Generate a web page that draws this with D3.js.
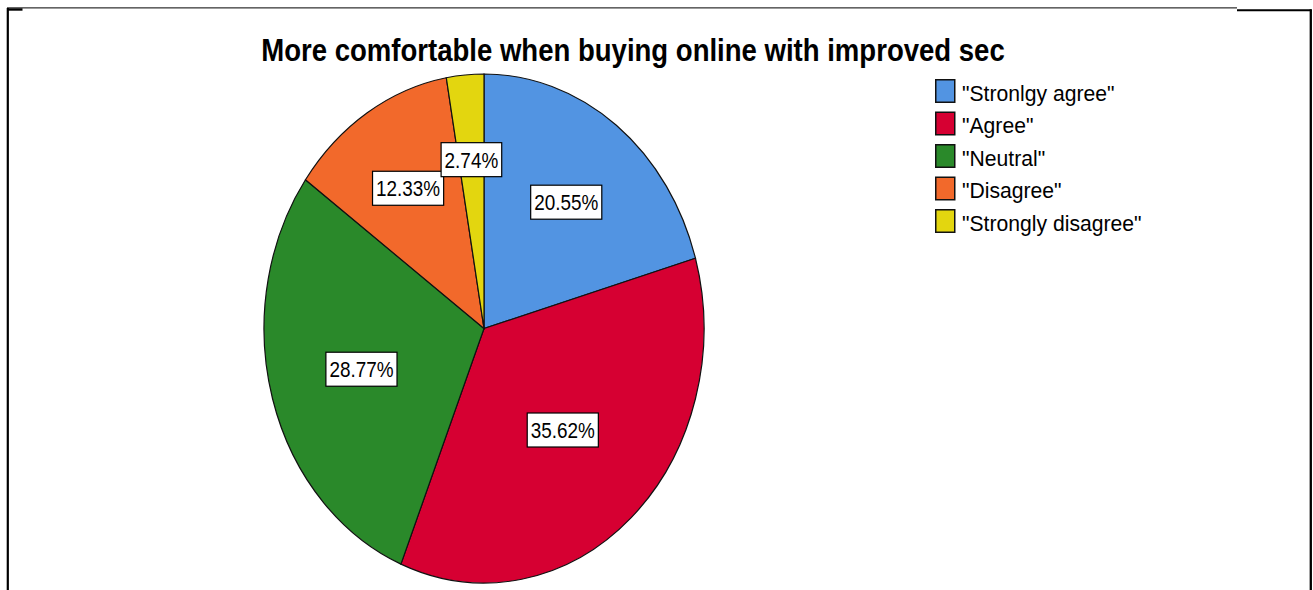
<!DOCTYPE html>
<html>
<head>
<meta charset="utf-8">
<script src="https://cdn.jsdelivr.net/npm/d3@7"></script>
<style>
  html, body { margin: 0; padding: 0; background: #fff; }
  svg { display: block; }
  text { font-family: "Liberation Sans", Arial, sans-serif; }
</style>
</head>
<body>
<svg id="chart" width="1313" height="590"></svg>
<script>
// Survey responses, percent of respondents
const categories = ['"Stronlgy agree"', '"Agree"', '"Neutral"', '"Disagree"', '"Strongly disagree"'];
const percents = [20.55, 35.62, 28.77, 12.33, 2.74];
const colors = ["#5294e2", "#d60032", "#2a892a", "#f2692b", "#e3d60f"];
const title = "More comfortable when buying online with improved sec";

const svg = d3.select("#chart");

// Narrow-looking text: a larger font squeezed horizontally
function narrowText(parent, x, y, str, size, squeeze) {
  return parent.append("text")
    .attr("transform", `translate(${x},${y}) scale(${squeeze},1)`)
    .attr("font-size", size)
    .attr("fill", "#000")
    .text(str);
}

// Frame lines around the output
const frame = svg.append("g").attr("stroke", "#000").attr("fill", "none");
frame.append("line").attr("x1", 7.8).attr("y1", 8).attr("x2", 7.8).attr("y2", 590).attr("stroke-width", 2.2);
frame.append("line").attr("x1", 7).attr("y1", 7.9).attr("x2", 1237).attr("y2", 7.9).attr("stroke-width", 1);
frame.append("line").attr("x1", 7).attr("y1", 9.5).attr("x2", 22.5).attr("y2", 9.5).attr("stroke-width", 2.4);
frame.append("line").attr("x1", 1237).attr("y1", 10.3).attr("x2", 1311.5).attr("y2", 10.3).attr("stroke-width", 2);
frame.append("line").attr("x1", 1310.8).attr("y1", 9.3).attr("x2", 1310.8).attr("y2", 590).attr("stroke-width", 2.3);

// Title
narrowText(svg, 633, 61, title, 31.3, 0.88)
  .attr("text-anchor", "middle")
  .attr("font-weight", "bold");

// Pie drawn on a circle of radius R, then stretched into an ellipse
const cx = 484, cy = 328.5, rx = 220, ry = 254.5;
const R = ry, sx = rx / ry;

const pie = d3.pie().sort(null).value(d => d);
const arcs = pie(percents);
const arc = d3.arc().innerRadius(0).outerRadius(R);

const pieG = svg.append("g").attr("transform", `translate(${cx},${cy}) scale(${sx},1)`);
pieG.selectAll("path")
  .data(arcs)
  .join("path")
  .attr("d", arc)
  .attr("fill", (d, i) => colors[i])
  .attr("stroke", "#111")
  .attr("stroke-width", 1.2)
  .attr("vector-effect", "non-scaling-stroke");

// Value labels at each slice's area centroid
const labelG = svg.append("g").attr("transform", `translate(${cx},${cy})`);
const labelSqueeze = 0.86;
arcs.forEach((d, i) => {
  const half = (d.endAngle - d.startAngle) / 2;
  const mid = d.startAngle + half;
  const k = (2 / 3) * R * Math.sin(half) / half;
  const lx = k * Math.sin(mid) * sx;
  const ly = -k * Math.cos(mid);
  const g = labelG.append("g").attr("transform", `translate(${lx},${ly})`);
  const t = narrowText(g, 0, 0, d3.format(".2f")(percents[i]) + "%", 22, labelSqueeze)
    .attr("text-anchor", "middle")
    .attr("dy", "0.36em");
  const w = t.node().getBBox().width * labelSqueeze;
  g.insert("rect", "text")
    .attr("x", -w / 2 - 3.5).attr("y", -17)
    .attr("width", w + 7).attr("height", 34)
    .attr("fill", "#fff")
    .attr("stroke", "#000")
    .attr("stroke-width", 1.2);
});

// Legend
const legend = svg.append("g").attr("transform", "translate(935,79)");
const rowStep = 32.5;
const rows = legend.selectAll("g")
  .data(categories)
  .join("g")
  .attr("transform", (d, i) => `translate(0,${i * rowStep})`);
rows.append("rect")
  .attr("x", 0.75).attr("y", 0.75)
  .attr("width", 19).attr("height", 22.5)
  .attr("fill", (d, i) => colors[i])
  .attr("stroke", "#111")
  .attr("stroke-width", 1.5);
rows.each(function (d) {
  narrowText(d3.select(this), 27, 21.5, d, 22.5, 0.94);
});
</script>
</body>
</html>
